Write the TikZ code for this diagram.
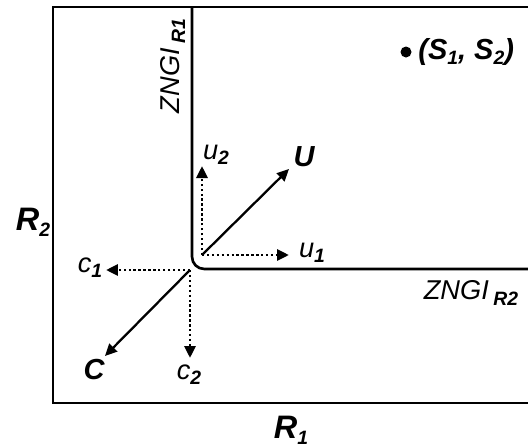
\documentclass[tikz,border=0pt]{standalone}
\usepackage{fontspec}
\setmainfont{Liberation Sans}
\usetikzlibrary{arrows.meta,positioning}
\newcommand{\lowsub}[1]{\raisebox{-0.35ex}{\fontsize{11}{12}\selectfont\bfseries\itshape #1}}
\tikzset{
  wall/.style={line width=1.5pt},
  vec/.style={-{Triangle[length=2.4mm,width=2.2mm]},line width=1.3pt},
  part/.style={vec,line width=1.7pt,dash pattern=on 1.4pt off 1.4pt},
  lbl/.style={font=\itshape\fontsize{15.5}{18}\selectfont,inner sep=0pt},
  biglbl/.style={font=\bfseries\itshape\fontsize{16.5}{20}\selectfont,inner sep=0pt},
  axlbl/.style={font=\bfseries\itshape\fontsize{18.5}{22}\selectfont,inner sep=0pt},
}

\begin{document}
\begin{tikzpicture}[x=0.02cm,y=-0.02cm]
  \useasboundingbox (0,0) rectangle (528,447);
  % frame and ZNGIs
  \draw[wall] (528,7) -- (53,7) -- (53,403) -- (528,403);
  \draw[wall,rounded corners=7pt] (192,7) -- (192,269) -- (528,269);
  \coordinate (cst) at (190,270);
  \coordinate (ust) at (202,255);
  % vectors
  \coordinate (u1end) at (289,255);
  \coordinate (u2end) at (202,166);
  \coordinate (Uend) at (289,169);
  \coordinate (c1end) at (106,270);
  \coordinate (c2end) at (190,358);
  \coordinate (Cend) at (105,356);
  \draw[part] (ust) -- (u1end);
  \draw[part] (ust) -- (u2end);
  \draw[vec] (ust) -- (Uend);
  \draw[part] (cst) -- (c1end);
  \draw[part] (cst) -- (c2end);
  \draw[vec] (cst) -- (Cend);
  % labels
  \node[lbl] (u1) at (312,253) {u\lowsub{1}};
  \node[lbl] (u2) at (216,155) {u\lowsub{2}};
  \node[biglbl] (U) at (304,157) {U};
  \node[lbl] (c1) at (90,268) {c\lowsub{1}};
  \node[lbl] (c2) at (189,375) {c\lowsub{2}};
  \node[biglbl] (C) at (94,370) {C};
  \node[lbl,rotate=90] (zr1) at (173,66) {ZNGI\,\lowsub{R1}};
  \node[lbl] (zr2) at (471,293) {ZNGI\,\lowsub{R2}};
  \fill (406,52) circle (5.5);
  \node[font=\bfseries\itshape\fontsize{16.5}{20}\selectfont,anchor=west,inner sep=0pt] (s) at (418,52) {(S\lowsub{1}, S\lowsub{2})};
  \node[axlbl] (r2) at (33,222) {R\lowsub{2}};
  \node[axlbl] (r1) at (291,430) {R\lowsub{1}};
\end{tikzpicture}
\end{document}
